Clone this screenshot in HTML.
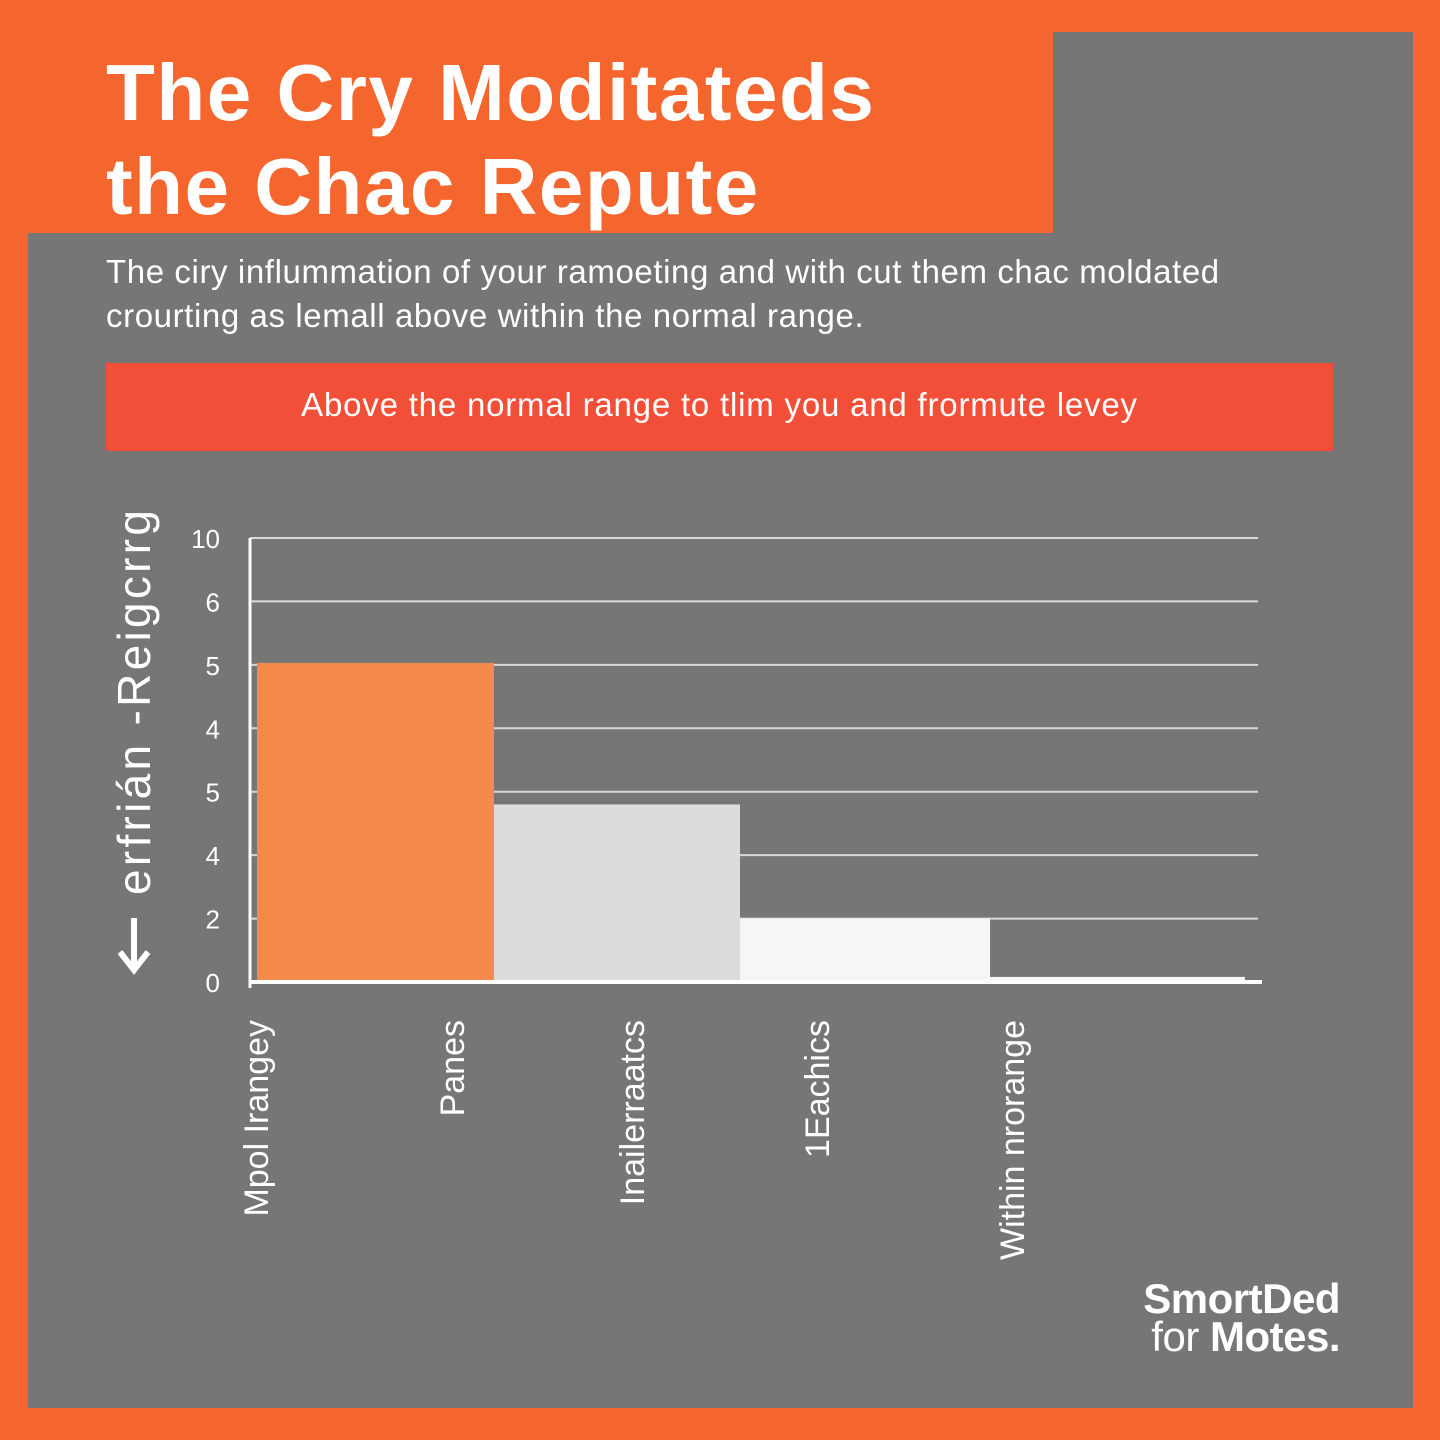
<!DOCTYPE html>
<html><head><meta charset="utf-8"><style>
html,body{margin:0;padding:0;}
body{width:1440px;height:1440px;background:#F4662E;position:relative;overflow:hidden;font-family:"Liberation Sans",sans-serif;}
.abs{position:absolute;}
</style></head><body>
<div class="abs" style="left:28px;top:233px;width:1385px;height:1175px;background:#767676;"></div>
<div class="abs" style="left:1053px;top:32px;width:360px;height:202px;background:#767676;"></div>
<div class="abs" style="left:106px;top:46px;color:#fff;font-weight:bold;font-size:80px;line-height:94px;letter-spacing:1.5px;">The Cry Moditateds<br>the Chac Repute</div>
<div class="abs" style="left:106px;top:250px;color:#fff;font-size:33px;line-height:44px;letter-spacing:0.6px;">The ciry inflummation of your ramoeting and with cut them chac moldated<br>crourting as lemall above within the normal range.</div>
<div class="abs" style="left:106px;top:363px;width:1227px;height:88px;background:#F24F38;color:#fff;font-size:33px;line-height:84px;text-align:center;letter-spacing:0.8px;">Above the normal range to tlim you and frormute levey</div>
<svg class="abs" style="left:0;top:0" width="1440" height="1440" id="chart"></svg>
<div class="abs" style="left:1080px;top:1280px;color:#fff;font-weight:bold;font-size:42px;line-height:38px;text-align:right;width:260px;letter-spacing:-0.5px;">SmortDed<br><span style="font-weight:normal">for</span> Motes.</div>
<script>
const tickLabels=["0","2","4","5","4","5","6","10"];
const categories=["Mpol Irangey","Panes","Inailerraatcs","1Eachics","Within nrorange"];
const values=[5.03,2.8,1.0,0.08];
const barColors=["#F58A4B","#DCDCDC","#F6F6F6","#F6F6F6"];
const NS="http://www.w3.org/2000/svg";
const svg=document.getElementById('chart');
const x0=250,x1=1258,yb=982,yt=538,n=7;
function y(v){return yb-(yb-yt)*v/n;}
const barEdges=[257,494,740,990,1245];
function mk(t,a){const e=document.createElementNS(NS,t);for(const k in a)e.setAttribute(k,a[k]);svg.appendChild(e);return e;}
tickLabels.forEach((l,i)=>{
  const g=mk('line',{x1:x0,x2:x1,y1:y(i),y2:y(i),stroke:'#d8d8d8','stroke-width':2});
  
  
  const t=mk('text',{x:220,y:y(i)+10,fill:'#fff','font-size':26,'text-anchor':'end','font-family':'Liberation Sans'});
  t.textContent=l;
  
  
});
values.forEach((v,i)=>{
  const r=mk('rect',{x:barEdges[i],y:y(v),width:barEdges[i+1]-barEdges[i],height:yb-y(v),fill:barColors[i]});
  
  
});
const ax=mk('line',{x1:x0,x2:x0,y1:yt,y2:yb+6,stroke:'#fff','stroke-width':3});


const bx=mk('line',{x1:x0,x2:1262,y1:yb,y2:yb,stroke:'#fff','stroke-width':4});


const lx=[268,464,644,829,1024];
categories.forEach((c,i)=>{
  const t=mk('text',{x:0,y:0,fill:'#fff','font-size':34,'text-anchor':'end','font-family':'Liberation Sans',transform:`translate(${lx[i]},1020) rotate(-90)`});
  t.textContent=c;
  
  
});
const arr=mk('path',{d:'M134 918 V968 M120 952 L134 970 L148 952',stroke:'#fff','stroke-width':6,fill:'none'});


const yt2=mk('text',{x:0,y:0,fill:'#fff','font-size':46,'text-anchor':'start','font-family':'Liberation Sans',textLength:385,transform:'translate(150,895) rotate(-90)'});
yt2.textContent="erfrián -Reigcrrg";


</script>
</body></html>
